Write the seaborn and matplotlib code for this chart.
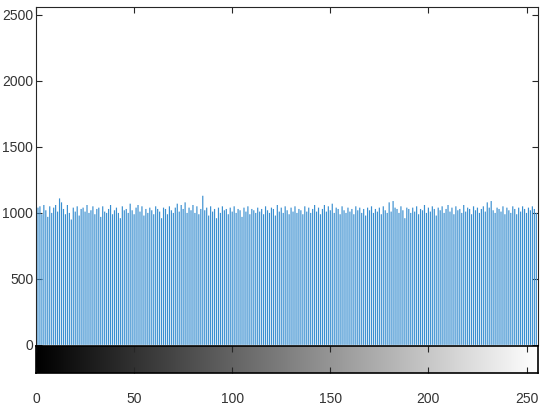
import numpy as np
import pandas as pd
import matplotlib
matplotlib.use("Agg")
import matplotlib.pyplot as plt
import seaborn as sns

# grey levels and their pixel counts
levels = np.arange(256)
counts = [
    1000, 1040, 1050, 990, 1060, 1020, 970, 1050, 1000, 1040, 1060, 1010, 1110, 1080, 1030, 990,
    1060, 1000, 950, 1040, 1010, 1050, 980, 1030, 1040, 1010, 1060, 1000, 1020, 1050, 990, 1030,
    1040, 970, 1050, 1010, 1000, 1030, 1060, 990, 1020, 1040, 1000, 960, 1050, 1020, 1030, 1000,
    1070, 1020, 990, 1040, 1060, 1010, 1050, 980, 1030, 1000, 1040, 1020, 990, 1050, 1030, 1010,
    960, 1040, 1030, 990, 1050, 1020, 1000, 1040, 1070, 1010, 1060, 1030, 1080, 1000, 1040, 1020,
    1060, 1000, 1050, 990, 1030, 1130, 1020, 1040, 980, 1050, 1010, 1030, 960, 1040, 1000, 1050,
    1020, 1030, 990, 1040, 1010, 1050, 1000, 1030, 1020, 970, 1040, 1010, 1050, 990, 1030, 1020,
    1000, 1040, 1010, 1030, 990, 1050, 1020, 1000, 1040, 1030, 980, 1060, 1010, 1040, 1000, 1050,
    1020, 990, 1040, 1010, 1050, 1000, 1030, 1020, 990, 1050, 1010, 1040, 1000, 1030, 1060, 1010,
    1040, 990, 1030, 1060, 1010, 1050, 1020, 1070, 1000, 1040, 1030, 990, 1050, 1020, 1000, 1040,
    1010, 1030, 990, 1050, 1020, 1040, 1000, 1030, 980, 1040, 1020, 1050, 1000, 1030, 1010, 1040,
    990, 1050, 1020, 1000, 1080, 1010, 1090, 1040, 1030, 1000, 1050, 1020, 960, 1040, 1030, 1000,
    1040, 1010, 1050, 990, 1030, 1020, 1060, 1000, 1040, 1010, 1050, 1030, 980, 1040, 1020, 1050,
    1000, 1030, 1060, 1010, 1040, 990, 1050, 1020, 1030, 1000, 1060, 1010, 1040, 1030, 990, 1050,
    1020, 1040, 1000, 1030, 1050, 1010, 1080, 1040, 1090, 1020, 1000, 1040, 1030, 1010, 1050, 990,
    1040, 1020, 1000, 1050, 1030, 990, 1040, 1010, 1050, 1030, 1000, 1040, 1020, 1050, 1030, 1000,
]
yticks = [0, 500, 1000, 1500, 2000, 2500]
xticks = [0, 50, 100, 150, 200, 250]

sns.set_style("white")
plt.rcParams["font.family"] = ["Liberation Sans", "DejaVu Sans"]

df = pd.DataFrame({"level": levels, "count": counts})
axc = "#262626"
tcol = "#333333"

fig = plt.figure(figsize=(5.43, 4.16), dpi=100)
ax = fig.add_axes([0.0663, 0.171, 0.925, 0.812])
cax = fig.add_axes([0.0663, 0.104, 0.925, 0.065])

sns.barplot(data=df, x="level", y="count", native_scale=True, width=0.6,
            color="#3a8fd0", saturation=1, linewidth=0, ax=ax)
for p in ax.patches:
    p.set_snap(False)
ax.set_xlim(0, 256)
ax.set_ylim(0, 2560)
ax.set_yticks(yticks)
ax.set_yticklabels([str(v) for v in yticks], fontsize=10, color=tcol)
ax.set_xticks(xticks)
ax.set_xticklabels([])
ax.set_xlabel("")
ax.set_ylabel("")
ax.tick_params(axis="both", direction="in", length=4, width=0.8, color=axc,
               top=True, right=True, bottom=False, left=True, pad=2)
for s in ax.spines.values():
    s.set_color(axc)
    s.set_linewidth(0.8)
ax.spines["bottom"].set_visible(False)

# grey-level colour bar underneath
cax.imshow(np.arange(256)[None, :], cmap="gray", aspect="auto",
           extent=(0, 256, 0, 1), interpolation="bilinear")
cax.set_xlim(0, 256)
cax.set_ylim(0, 1)
cax.set_yticks([])
cax.set_xticks(xticks)
cax.set_xticklabels([str(v) for v in xticks], fontsize=10, color=tcol)
cax.tick_params(axis="x", direction="in", length=4, width=0.8, color=axc,
                top=True, bottom=True, pad=14)
for s in cax.spines.values():
    s.set_color("black")
    s.set_linewidth(1.2)

fig.savefig("out.png", dpi=100)
